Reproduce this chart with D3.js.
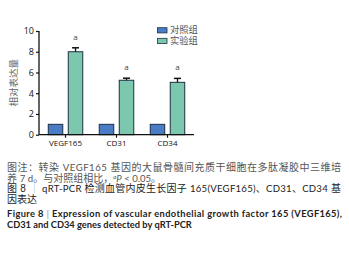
<!DOCTYPE html>
<html><head><meta charset="utf-8">
<script src="https://cdn.jsdelivr.net/npm/d3@7"></script>
<style>body{margin:0;background:#fff}svg{display:block}</style>
</head><body>
<svg id="c" width="349" height="256"></svg>
<script>
const categories = ["VEGF165", "CD31", "CD34"];
const seriesNames = ["对照组", "实验组"];
const controlValues = [1.0, 1.0, 1.0];
const expValues = [8.0, 5.25, 5.05];
const expErrors = [0.38, 0.2, 0.38];
const yTicks = [0, 2, 4, 6, 8, 10];
const sigLabels = ["a", "a", "a"];
const colors = ["#4a7cc6", "#7cc8ae"];

const svg = d3.select("#c");
const x0 = 39, x1 = 194, yTop = 31, yBot = 134.7;
const x = d3.scaleBand().domain(categories).range([x0, x1]).paddingInner(0).paddingOuter(0.02);
const y = d3.scaleLinear().domain([0, 10]).range([yBot, yTop]);
const bw = 14.5, gap = 5.5;

const cjk = "'Liberation Sans', 'Noto Sans CJK SC', sans-serif";
const lat = "'Open Sans', 'Noto Sans', sans-serif";
const capLat = "Lato, 'Liberation Sans', sans-serif";

// bars
categories.forEach((c, i) => {
  const cx = x(c) + x.bandwidth() / 2;
  const g = svg.append("g");
  g.append("rect").attr("x", cx - gap / 2 - bw).attr("y", y(controlValues[i]))
    .attr("width", bw).attr("height", y(0) - y(controlValues[i]))
    .attr("fill", colors[0]).attr("stroke", "#1f2f44").attr("stroke-width", 1);
  g.append("rect").attr("x", cx + gap / 2).attr("y", y(expValues[i]))
    .attr("width", bw).attr("height", y(0) - y(expValues[i]))
    .attr("fill", colors[1]).attr("stroke", "#1f2f44").attr("stroke-width", 1);
  const ex = cx + gap / 2 + bw / 2;
  g.append("line").attr("x1", ex).attr("x2", ex).attr("y1", y(expValues[i])).attr("y2", y(expValues[i] + expErrors[i]))
    .attr("stroke", "#111").attr("stroke-width", 1.3);
  g.append("line").attr("x1", ex - 3.5).attr("x2", ex + 3.5).attr("y1", y(expValues[i] + expErrors[i])).attr("y2", y(expValues[i] + expErrors[i]))
    .attr("stroke", "#111").attr("stroke-width", 1.5);
  g.append("text").attr("x", ex).attr("y", y(expValues[i] + expErrors[i]) - 8)
    .attr("text-anchor", "middle").attr("font-family", lat).attr("font-size", 8).attr("fill", "#444").text(sigLabels[i]);
});

// axes
const ya = svg.append("g").attr("transform", `translate(${x0},0)`)
  .call(d3.axisLeft(y).tickValues(yTicks).tickSize(3).tickPadding(2));
ya.select(".domain").attr("stroke", "#111").attr("stroke-width", 1.3).attr("d", `M-0,${yTop}V${yBot}`);
ya.selectAll(".tick line").attr("stroke", "#111").attr("stroke-width", 1.2);
ya.selectAll(".tick text").attr("font-family", lat).attr("font-size", 9).attr("fill", "#111");

const xa = svg.append("g").attr("transform", `translate(0,${yBot})`)
  .call(d3.axisBottom(x).tickSize(3).tickPadding(3));
xa.select(".domain").attr("stroke", "#111").attr("stroke-width", 1.3).attr("d", `M${x0},0H${x1}`);
xa.selectAll(".tick line").attr("stroke", "#111").attr("stroke-width", 1.2);
xa.selectAll(".tick text").attr("font-family", lat).attr("font-size", 8).attr("fill", "#111");

// y label
svg.append("text").attr("transform", `translate(17,${(yTop + yBot) / 2}) rotate(-90)`)
  .attr("text-anchor", "middle").attr("font-family", cjk).attr("font-size", 9.5).attr("fill", "#666")
  .text("相对表达量");

// legend
seriesNames.forEach((n, i) => {
  const ly = 27.7 + i * 10.6;
  svg.append("rect").attr("x", 157.5).attr("y", ly).attr("width", 9.5).attr("height", 5.2)
    .attr("fill", colors[i]).attr("stroke", "#1f2f44").attr("stroke-width", 0.8);
  svg.append("text").attr("x", 170).attr("y", ly + 5.5).attr("font-family", cjk).attr("font-size", 9.3)
    .attr("fill", "#555").text(n);
});

// caption: one text per line with tspans; justify via letter-spacing
function line(yb, parts, opts = {}) {
  const size = opts.size || 10;
  const t = svg.append("text").attr("x", 7).attr("y", yb).attr("font-size", size)
    .attr("fill", opts.fill || "#555").attr("font-weight", opts.bold ? "bold" : null);
  let nch = 0;
  parts.forEach(p => {
    const s = t.append("tspan").attr("font-family", p.cjk ? cjk : capLat).text(p.t);
    if (p.fill) s.attr("fill", p.fill);
    if (p.italic) s.attr("font-style", "italic");
    if (p.sup) s.attr("dy", -3).attr("font-size", 6);
    if (p.down) s.attr("dy", 3);
    if (p.size) s.attr("font-size", p.size);
    nch += p.t.length;
  });
  if (opts.len) {
    const w = t.node().getComputedTextLength();
    t.attr("letter-spacing", (opts.len - w) / (nch - 1));
  }
  return t;
}
line(171, [{t: "图注：转染 ", cjk: 1}, {t: "VEGF165", size: 9.6}, {t: " 基因的大鼠骨髓间充质干细胞在多肽凝胶中三维培", cjk: 1}], {len: 334});
line(181.7, [{t: "养 ", cjk: 1}, {t: "7 d", size: 9.6}, {t: "。与对照组相比，", cjk: 1}, {t: "a", sup: 1, italic: 1}, {t: "P", italic: 1, down: 1, size: 9.6}, {t: " < 0.05", size: 9.6}, {t: "。", cjk: 1}]);
line(192.4, [{t: "图 8 ", cjk: 1}, {t: "｜", cjk: 1, fill: "#9ab0cc"}, {t: " qRT-PCR ", size: 9.6}, {t: "检测血管内皮生长因子 ", cjk: 1}, {t: "165(VEGF165)", size: 9.6}, {t: "、", cjk: 1}, {t: "CD31", size: 9.6}, {t: "、", cjk: 1}, {t: "CD34", size: 9.6}, {t: " 基", cjk: 1}], {len: 334, fill: "#222"});
line(202.8, [{t: "因表达", cjk: 1}], {fill: "#222"});
line(216.8, [{t: "Figure 8 "}, {t: "|", fill: "#9ab0cc"}, {t: " Expression of vascular endothelial growth factor 165 (VEGF165),"}], {bold: 1, fill: "#222", len: 335, size: 9.3});
line(227.5, [{t: "CD31 and CD34 genes detected by qRT-PCR"}], {bold: 1, fill: "#222", size: 9.3});
</script>
</body></html>
